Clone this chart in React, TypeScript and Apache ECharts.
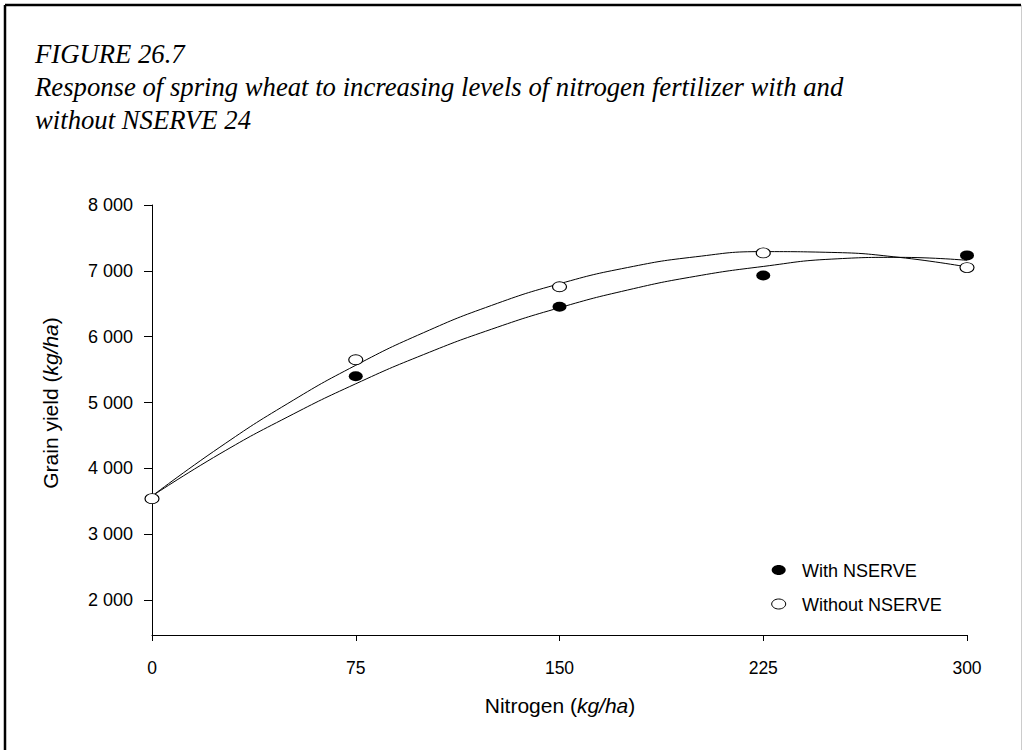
import React, { useEffect, useRef } from "react";
import * as echarts from "echarts";

// Observed points (Nitrogen kg/ha -> grain yield kg/ha)
const nitrogen = [0, 75, 150, 225, 300];
const withNserve = [3540, 5400, 6455, 6930, 7235];
const withoutNserve = [3540, 5650, 6758, 7272, 7050];

// Fitted response curves
const curveN = [0, 25, 50, 75, 100, 125, 150, 175, 200, 225, 250, 275, 300];
const withCurve = [3580, 4222, 4783, 5285, 5729, 6114, 6440, 6708, 6917, 7067, 7178, 7205, 7160];
const withoutCurve = [3580, 4323, 4986, 5566, 6062, 6475, 6804, 7050, 7213, 7292, 7280, 7205, 7060];

const yTicks = [2000, 3000, 4000, 5000, 6000, 7000, 8000];

const titleLines = [
  "FIGURE 26.7",
  "Response of spring wheat to increasing levels of nitrogen fertilizer with and",
  "without NSERVE 24",
];
const legendNames = ["With NSERVE", "Without NSERVE"];

const ELLIPSE = "path://M0,5A7,5 0 1,1 14,5A7,5 0 1,1 0,5Z";
const SANS = "'Liberation Sans', Arial, sans-serif";
const SERIF = "'Liberation Serif', 'Times New Roman', serif";

const fmt = (v: number) => {
  if (v >= 1000) {
    const th = Math.floor(v / 1000);
    const rest = String(Math.round(v % 1000)).padStart(3, "0");
    return `${th} ${rest}`;
  }
  return String(v);
};

export default function App() {
  const ref = useRef<HTMLDivElement>(null);
  useEffect(() => {
    if (!ref.current) return;
    const chart = echarts.init(ref.current, undefined, { renderer: "svg" });
    const pair = (xs: number[], ys: number[]) => xs.map((x, i) => [x, ys[i]]);
    chart.setOption({
      animation: false,
      backgroundColor: "#fff",
      grid: { left: 152, right: 55, top: 205, bottom: 115, containLabel: false },
      xAxis: {
        type: "value",
        min: 0,
        max: 300,
        interval: 75,
        axisLine: { lineStyle: { color: "#000", width: 1 } },
        axisTick: { length: 6, lineStyle: { color: "#000" } },
        axisLabel: { margin: 24, fontSize: 17.5, color: "#000", fontFamily: SANS },
        splitLine: { show: false },
      },
      yAxis: {
        type: "value",
        min: 1470,
        max: 8000,
        axisLine: { show: true, lineStyle: { color: "#000", width: 1 } },
        axisTick: { show: true, length: 8, lineStyle: { color: "#000" }, customValues: yTicks },
        axisLabel: {
          margin: 19,
          fontSize: 18,
          color: "#000",
          fontFamily: SANS,
          customValues: yTicks,
          formatter: (v: number) => fmt(v),
        },
        splitLine: { show: false },
      },
      series: [
        {
          type: "line",
          data: pair(curveN, withCurve),
          smooth: true,
          symbol: "none",
          lineStyle: { color: "#000", width: 1 },
          silent: true,
        },
        {
          type: "line",
          data: pair(curveN, withoutCurve),
          smooth: true,
          symbol: "none",
          lineStyle: { color: "#000", width: 1 },
          silent: true,
        },
        {
          name: legendNames[0],
          type: "scatter",
          data: pair(nitrogen, withNserve),
          symbol: ELLIPSE,
          symbolSize: [14, 10],
          itemStyle: { color: "#000", opacity: 1 },
          z: 3,
        },
        {
          name: legendNames[1],
          type: "scatter",
          data: pair(nitrogen, withoutNserve),
          symbol: ELLIPSE,
          symbolSize: [14, 10],
          itemStyle: { color: "#fff", borderColor: "#000", borderWidth: 1, opacity: 1 },
          z: 4,
        },
      ],
      graphic: [
        { type: "line", shape: { x1: 5, y1: 5, x2: 1021, y2: 5 }, style: { stroke: "#000", lineWidth: 2.5 } },
        { type: "line", shape: { x1: 5, y1: 5, x2: 5, y2: 750 }, style: { stroke: "#000", lineWidth: 2.5 } },
        { type: "line", shape: { x1: 1021.5, y1: 5, x2: 1021.5, y2: 750 }, style: { stroke: "#ccc", lineWidth: 1 } },
        ...titleLines.map((t, i) => ({
          type: "text",
          x: 35,
          y: 53.5 + i * 33,
          style: {
            text: t,
            font: `italic 26.7px ${SERIF}`,
            fill: "#000",
            textAlign: "left",
            textVerticalAlign: "middle",
          },
        })),
        {
          type: "text",
          x: 560,
          y: 705,
          style: {
            text: "{a|Nitrogen (}{b|kg/ha}{a|)}",
            rich: {
              a: { fontSize: 21, fontFamily: SANS, fill: "#000", color: "#000" },
              b: { fontSize: 21, fontFamily: SANS, fontStyle: "italic", fill: "#000", color: "#000" },
            },
            textAlign: "center",
            textVerticalAlign: "middle",
          },
        },
        {
          type: "text",
          x: 50,
          y: 403,
          rotation: Math.PI / 2,
          style: {
            text: "{a|Grain yield (}{b|kg/ha}{a|)}",
            rich: {
              a: { fontSize: 21, fontFamily: SANS, fill: "#000", color: "#000" },
              b: { fontSize: 21, fontFamily: SANS, fontStyle: "italic", fill: "#000", color: "#000" },
            },
            textAlign: "center",
            textVerticalAlign: "middle",
          },
        },
        { type: "ellipse", shape: { cx: 778.7, cy: 570, rx: 7, ry: 5 }, style: { fill: "#000" } },
        {
          type: "text",
          x: 802,
          y: 570.5,
          style: { text: legendNames[0], font: `18px ${SANS}`, fill: "#000", textVerticalAlign: "middle" },
        },
        { type: "ellipse", shape: { cx: 778.7, cy: 604, rx: 7, ry: 5 }, style: { fill: "#fff", stroke: "#000", lineWidth: 1 } },
        {
          type: "text",
          x: 802,
          y: 604.5,
          style: { text: legendNames[1], font: `18px ${SANS}`, fill: "#000", textVerticalAlign: "middle" },
        },
      ],
    });
    return () => chart.dispose();
  }, []);
  return (
    <div
      ref={ref}
      style={{ position: "absolute", left: 0, top: 0, width: 1022, height: 750, background: "#fff" }}
    />
  );
}
